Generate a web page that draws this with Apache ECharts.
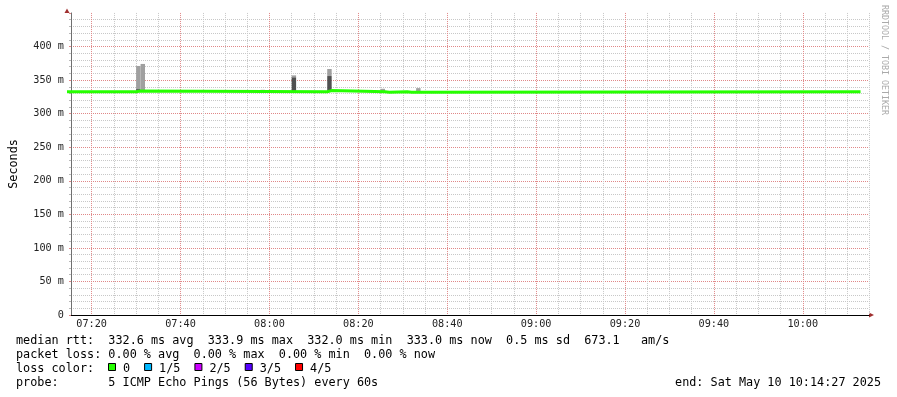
<!DOCTYPE html>
<html>
<head>
<meta charset="utf-8">
<script src="https://cdn.jsdelivr.net/npm/echarts@6.0.0/dist/echarts.min.js"></script>
<style>
  html, body { margin: 0; padding: 0; background: #fff; }
  #chart { width: 897px; height: 397px; }
</style>
</head>
<body>
<div id="chart"></div>
<script>
// median rtt (ms), given as change points of a step line
var medianTimes = ["07:14:27", "07:30", "07:31", "08:13", "08:14", "08:26", "08:27", "08:31", "08:32", "10:13"];
var medianValues = [332.6, 333.6, 332.6, 334.3, 332.6, 332.0, 332.6, 332.0, 332.6, 332.6];

// smoke (spread of the 5 pings) for the minutes where it shows
var smokeTimes = ["07:30", "07:31", "07:58", "08:05", "08:13", "08:25", "08:33"];
var smokeMin = [333, 333, 333, 333, 333, 333, 333];
var smokeCore = [336.5, 333, 333, 354, 356, 333, 333];
var smokeMax = [371, 374, 335.5, 357, 366.5, 337, 338];

// footer
var rttStats = ["332.6", "333.9", "332.0", "333.0"];
var rttSd = "0.5";
var rttAms = "673.1";
var lossStats = ["0.00", "0.00", "0.00", "0.00"];
var lossLabels = ["0", "1/5", "2/5", "3/5", "4/5"];
var lossColors = ["#26ff00", "#00b8ff", "#cc00ff", "#5500ff", "#ff0000"];
var probeText = "5 ICMP Echo Pings (56 Bytes) every 60s";
var endText = "Sat May 10 10:14:27 2025";

var MONO = "DejaVu Sans Mono";
var FOOT = 11.8;
var CH = FOOT * 0.602;
var PX_MIN = 800 / 180;

// minutes since 07:00
function toMin(s) {
  var p = s.split(":").map(Number);
  return p[0] * 60 + p[1] + (p[2] || 0) / 60 - 420;
}
function pad(n) {
  return (n < 10 ? "0" : "") + n;
}

var chartDom = document.getElementById("chart");
var myChart = echarts.init(chartDom);

var graphics = [];
function footText(x, y, text) {
  graphics.push({
    type: "text", x: x, y: y, silent: true,
    style: { text: text, font: FOOT + "px '" + MONO + "'", fill: "#000", verticalAlign: "middle" },
  });
}
footText(16, 341, "median rtt:  " + rttStats[0] + " ms avg  " + rttStats[1] + " ms max  " + rttStats[2] + " ms min  " + rttStats[3] + " ms now  " + rttSd + " ms sd  " + rttAms + "   am/s");
footText(16, 355, "packet loss: " + lossStats[0] + " % avg  " + lossStats[1] + " % max  " + lossStats[2] + " % min  " + lossStats[3] + " % now");
footText(16, 369, "loss color:");
footText(16, 383, "probe:       " + probeText);
graphics.push({
  type: "text", x: 881, y: 383, silent: true,
  style: { text: "end: " + endText, font: FOOT + "px '" + MONO + "'", fill: "#000", align: "right", verticalAlign: "middle" },
});

var bx = 108.5;
lossLabels.forEach(function (lab, i) {
  graphics.push({
    type: "rect", silent: true,
    shape: { x: bx, y: 363.5, width: 7, height: 7 },
    style: { fill: lossColors[i], stroke: "#000", lineWidth: 1 },
  });
  footText(bx + 14.5, 369, lab);
  bx = bx + 14.5 + lab.length * CH + 14.5;
});

// arrows and watermark
graphics.push({
  type: "polygon", silent: true,
  shape: { points: [[64.5, 13], [69.5, 13], [67, 8.5]] },
  style: { fill: "#a03030" },
});
graphics.push({
  type: "polygon", silent: true,
  shape: { points: [[869, 312.5], [869, 317.5], [874, 315]] },
  style: { fill: "#a03030" },
});
graphics.push({
  type: "text", x: 884, y: 5, rotation: -Math.PI / 2, silent: true,
  style: { text: "RRDTOOL / TOBI OETIKER", font: "8.3px '" + MONO + "'", fill: "#aaaaaa", verticalAlign: "middle" },
});

var gridMinor = "#c8c8c8";
var gridMajor = "#e08888";
var TOP = 12.94, H = 302.06;

var option = {
  animation: false,
  backgroundColor: "#fff",
  textStyle: { fontFamily: MONO },
  grid: [
    // axis lines + horizontal grid
    { left: 67, top: TOP, width: 802, height: H },
    // data (07:15 .. 10:15)
    { left: 67 + 0.55 * PX_MIN, top: TOP, width: 800, height: H },
    // vertical grid and labels (07:20 .. 10:20)
    { left: 67 + 5.55 * PX_MIN, top: TOP, width: 800, height: H },
  ],
  xAxis: [
    {
      gridIndex: 0, type: "value", min: 0, max: 1,
      axisLine: { show: true, lineStyle: { color: "#000", width: 1 } },
      axisTick: { show: false }, axisLabel: { show: false }, splitLine: { show: false },
    },
    {
      gridIndex: 1, type: "value", min: 15, max: 195, show: false,
    },
    {
      gridIndex: 2, type: "value", min: 20, max: 200, interval: 20,
      axisLine: { show: false }, axisTick: { show: false },
      axisLabel: {
        margin: 4, fontSize: 10.2, color: "#222", fontFamily: MONO,
        formatter: function (v) {
          if (v > 190) return "";
          var m = v + 420;
          return pad(Math.floor(m / 60)) + ":" + pad(m % 60);
        },
      },
      splitLine: {
        show: true, showMinLine: true, showMaxLine: false,
        lineStyle: { color: gridMajor, type: [1, 1], width: 1 },
      },
      minorTick: { show: false, splitNumber: 4 },
      minorSplitLine: {
        show: true,
        lineStyle: { color: gridMinor, type: [1, 1], width: 1 },
      },
    },
  ],
  yAxis: [
    {
      gridIndex: 0, type: "value", min: 0, max: 450, interval: 50,
      name: "Seconds", nameLocation: "middle", nameGap: 51, nameRotate: 90,
      nameTextStyle: { fontFamily: MONO, fontSize: FOOT, color: "#000" },
      axisLine: { show: true, lineStyle: { color: "#707070", width: 1 } },
      axisTick: { show: true, length: 2, lineStyle: { color: gridMajor } },
      minorTick: { show: true, splitNumber: 5, length: 2, lineStyle: { color: "#b8b8b8" } },
      axisLabel: {
        margin: 7, fontSize: 10.2, color: "#222", fontFamily: MONO,
        formatter: function (v) {
          if (v >= 450) return "";
          return v === 0 ? "0" : v + " m";
        },
      },
      splitLine: {
        show: true, showMinLine: false, showMaxLine: false,
        lineStyle: { color: gridMajor, type: [1, 1], width: 1 },
      },
      minorSplitLine: {
        show: true,
        lineStyle: { color: gridMinor, type: [1, 1], width: 1 },
      },
    },
    { gridIndex: 1, type: "value", min: 0, max: 450, show: false },
    { gridIndex: 2, type: "value", min: 0, max: 450, show: false },
  ],
  series: [
    {
      type: "custom",
      xAxisIndex: 1,
      yAxisIndex: 1,
      silent: true,
      z: 5,
      data: smokeTimes.map(function (t, i) {
        return [toMin(t), smokeMin[i], smokeCore[i], smokeMax[i]];
      }),
      renderItem: function (params, api) {
        var t = api.value(0);
        var lo = api.coord([t, api.value(1)]);
        var mid = api.coord([t, api.value(2)]);
        var hi = api.coord([t, api.value(3)]);
        var right = api.coord([t + 1, api.value(1)]);
        var w = right[0] - lo[0];
        return {
          type: "group",
          children: [
            { type: "rect", shape: { x: lo[0], y: hi[1], width: w, height: mid[1] - hi[1] }, style: { fill: "#a0a0a0" } },
            { type: "rect", shape: { x: lo[0], y: mid[1], width: w, height: lo[1] - mid[1] }, style: { fill: "#505050" } },
          ],
        };
      },
    },
    {
      type: "line",
      xAxisIndex: 1,
      yAxisIndex: 1,
      step: "end",
      clip: false,
      showSymbol: false,
      silent: true,
      z: 6,
      data: medianTimes.map(function (t, i) {
        return [toMin(t), medianValues[i]];
      }),
      lineStyle: { color: lossColors[0], width: 3 },
    },
  ],
  graphic: graphics,
};
option && myChart.setOption(option);
</script>
</body>
</html>
